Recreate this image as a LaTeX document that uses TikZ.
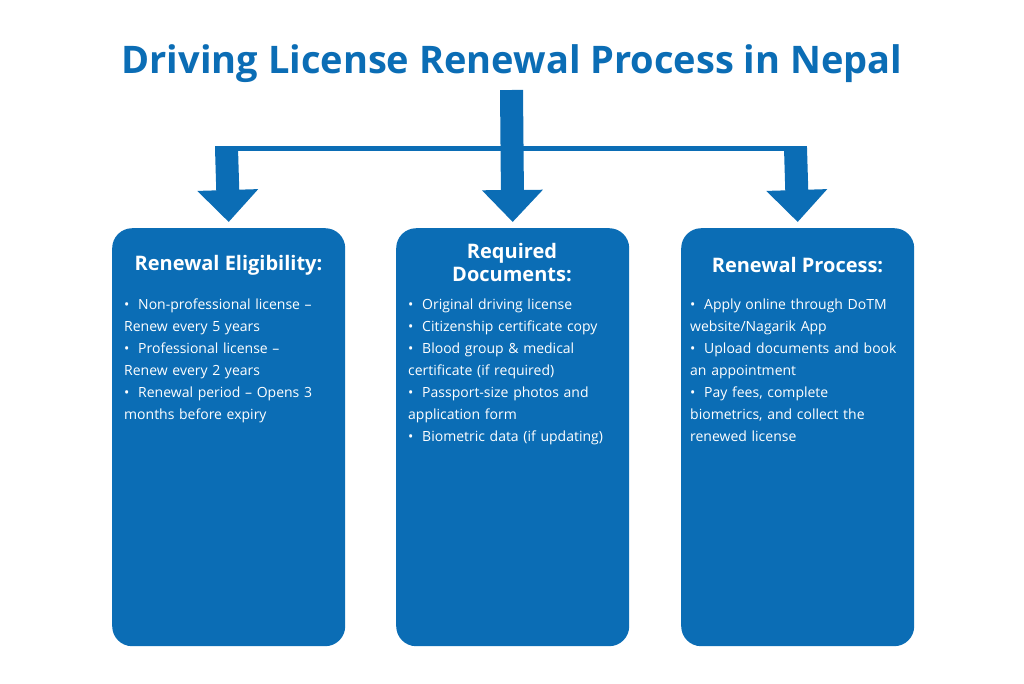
\documentclass[tikz,border=0pt]{standalone}
\usepackage{fontspec}
\setmainfont{Open Sans}
\usetikzlibrary{arrows.meta,positioning}
\definecolor{nblue}{HTML}{0B6DB5}
\begin{document}
\begin{tikzpicture}[x=1pt,y=-1pt]
  \tikzstyle{card} = [fill=nblue, rounded corners=20pt, minimum width=233pt, minimum height=418pt, anchor=north west]
  \tikzstyle{head} = [text=white, font=\bfseries\fontsize{20}{23}\selectfont, align=center]
  \tikzstyle{body} = [text=white, font=\fontsize{14}{22}\selectfont, anchor=north west, text width=210pt, inner sep=0pt]
  \tikzstyle{flow} = [draw=nblue, line width=23pt, -{Triangle[width=59pt,length=32pt]}]
  \useasboundingbox (0,0) rectangle (1024,683);

  \node[text=nblue, font=\bfseries\fontsize{38}{42}\selectfont] (title) at (512,64) {Driving License Renewal Process in Nepal};

  \node[card] (elig) at (112,228) {};
  \node[card] (docs) at (396,228) {};
  \node[card] (proc) at (681,228) {};

  % branch
  \coordinate (top) at (511.5,90);
  \coordinate (bl) at (226.5,148);
  \coordinate (br) at (795.5,148);
  \draw[nblue, line width=5pt] ([xshift=-11.5pt]bl) -- ([xshift=11.5pt]br);
  \draw[flow] (top) -- (docs.north |- 0,222);
  \draw[flow] (bl) -- (elig.north |- 0,222);
  \draw[flow] (br) -- (proc.north |- 0,222);

  % headings
  \node[head] (h1) at (228.5,265) {Renewal Eligibility:};
  \node[head] (h2) at (512,263) {Required\\Documents:};
  \node[head] (h3) at (797.5,265) {Renewal Process:};

  % lists
  \newcommand{\itm}[1]{\hangindent=14pt\hangafter=1\noindent\makebox[14pt][l]{\textbullet}#1\par}
  \node[body] (l1) at (124,299) {%
    \itm{Non-professional license –\\Renew every 5 years}
    \itm{Professional license –\\Renew every 2 years}
    \itm{Renewal period – Opens 3\\months before expiry}};
  \node[body] (l2) at (408,299) {%
    \itm{Original driving license}
    \itm{Citizenship certificate copy}
    \itm{Blood group \& medical\\certificate (if required)}
    \itm{Passport-size photos and\\application form}
    \itm{Biometric data (if updating)}};
  \node[body] (l3) at (690,299) {%
    \itm{Apply online through DoTM\\website/Nagarik App}
    \itm{Upload documents and book\\an appointment}
    \itm{Pay fees, complete\\biometrics, and collect the\\renewed license}};
\end{tikzpicture}
\end{document}
